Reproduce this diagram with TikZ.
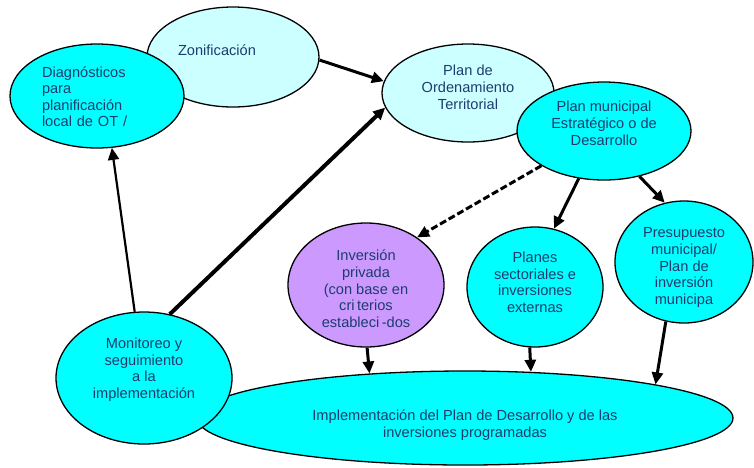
\documentclass[tikz,border=0pt]{standalone}
\usepackage{fontspec}
\setmainfont{Liberation Sans}
\usetikzlibrary{arrows.meta,shapes.geometric}
\definecolor{pdcyan}{RGB}{0,255,255}
\definecolor{pdpale}{RGB}{204,255,255}
\definecolor{pdlilac}{RGB}{204,153,255}
\definecolor{pdtext}{RGB}{30,60,110}

\begin{document}
\begin{tikzpicture}[x=1pt, y=-1pt,
  bubble/.style={ellipse, draw=black, line width=1.3pt, inner sep=0pt,
    text=pdtext, align=center,
    font=\fontsize{14.6}{16.6}\selectfont},
  lift/.style={text height=#1, text depth=0pt},
  flow/.style={-{Triangle[length=12pt,width=11pt]}, line width=3pt},
]
\useasboundingbox (0,0) rectangle (754,467);

% Top row
\node[bubble, fill=pdpale, minimum width=172pt, minimum height=100pt,
  text width=110pt, align=left, text height=10pt, text depth=13pt] (zon) at (233,57) {Zonificación};
\node[bubble, fill=pdcyan, minimum width=174pt, minimum height=104pt,
  text width=110pt, align=left, text height=10pt, text depth=47.8pt] (diag) at (97,96)
  {Diagnósticos\\para\\planificación\\local de OT /};
\node[bubble, fill=pdpale, minimum width=172pt, minimum height=98pt,
  lift=32.2pt] (pot) at (468,93) {Plan de\\Ordenamiento\\Territorial};
\node[bubble, fill=pdcyan, minimum width=174pt, minimum height=98pt,
  lift=28.2pt] (pmd) at (604,131) {Plan municipal\\Estratégico o de\\Desarrollo};

% Bottom part
\node[bubble, fill=pdcyan, minimum width=536pt, minimum height=94pt,
  lift=38.6pt] (impl) at (465,418)
  {Implementación del Plan de Desarrollo y de las\\inversiones programadas};
\node[bubble, fill=pdcyan, minimum width=176pt, minimum height=132pt,
  lift=40.8pt] (mon) at (144,378)
  {Monitoreo y\\seguimiento\\a la\\implementación};

% Middle row
\node[bubble, fill=pdlilac, minimum width=156pt, minimum height=124pt,
  lift=84.4pt] (inv) at (366,285)
  {Inversión\\privada\\(con base en\\cri\,terios\\estableci\,-dos};
\node[bubble, fill=pdcyan, minimum width=136pt, minimum height=120pt,
  lift=50.8pt] (sec) at (535,287)
  {Planes\\sectoriales e\\inversiones\\externas};
\node[bubble, fill=pdcyan, minimum width=138pt, minimum height=122pt,
  lift=84.4pt] (pre) at (684,262)
  {Presupuesto\\municipal/\\Plan de\\inversión\\municipa};

% Arrows
\draw[flow] (zon.-2) -- (pot.172);
\draw[flow, line width=4pt] (mon.68) -- (pot.190);
\draw[flow, line width=2.2pt] (mon.98) -- (diag.-74);
\draw[flow, dashed, dash pattern=on 7pt off 3pt] (pmd.209) -- (inv.43);
\draw[flow] (pmd.-118) -- (sec.72);
\draw[flow] (pmd.-52) -- (pre.108);
\draw[flow] (inv.-89) -- (impl.155);
\draw[flow] (sec.-95) -- (impl.35);
\draw[flow] (pre.-107) -- (impl.10);
\end{tikzpicture}
\end{document}
